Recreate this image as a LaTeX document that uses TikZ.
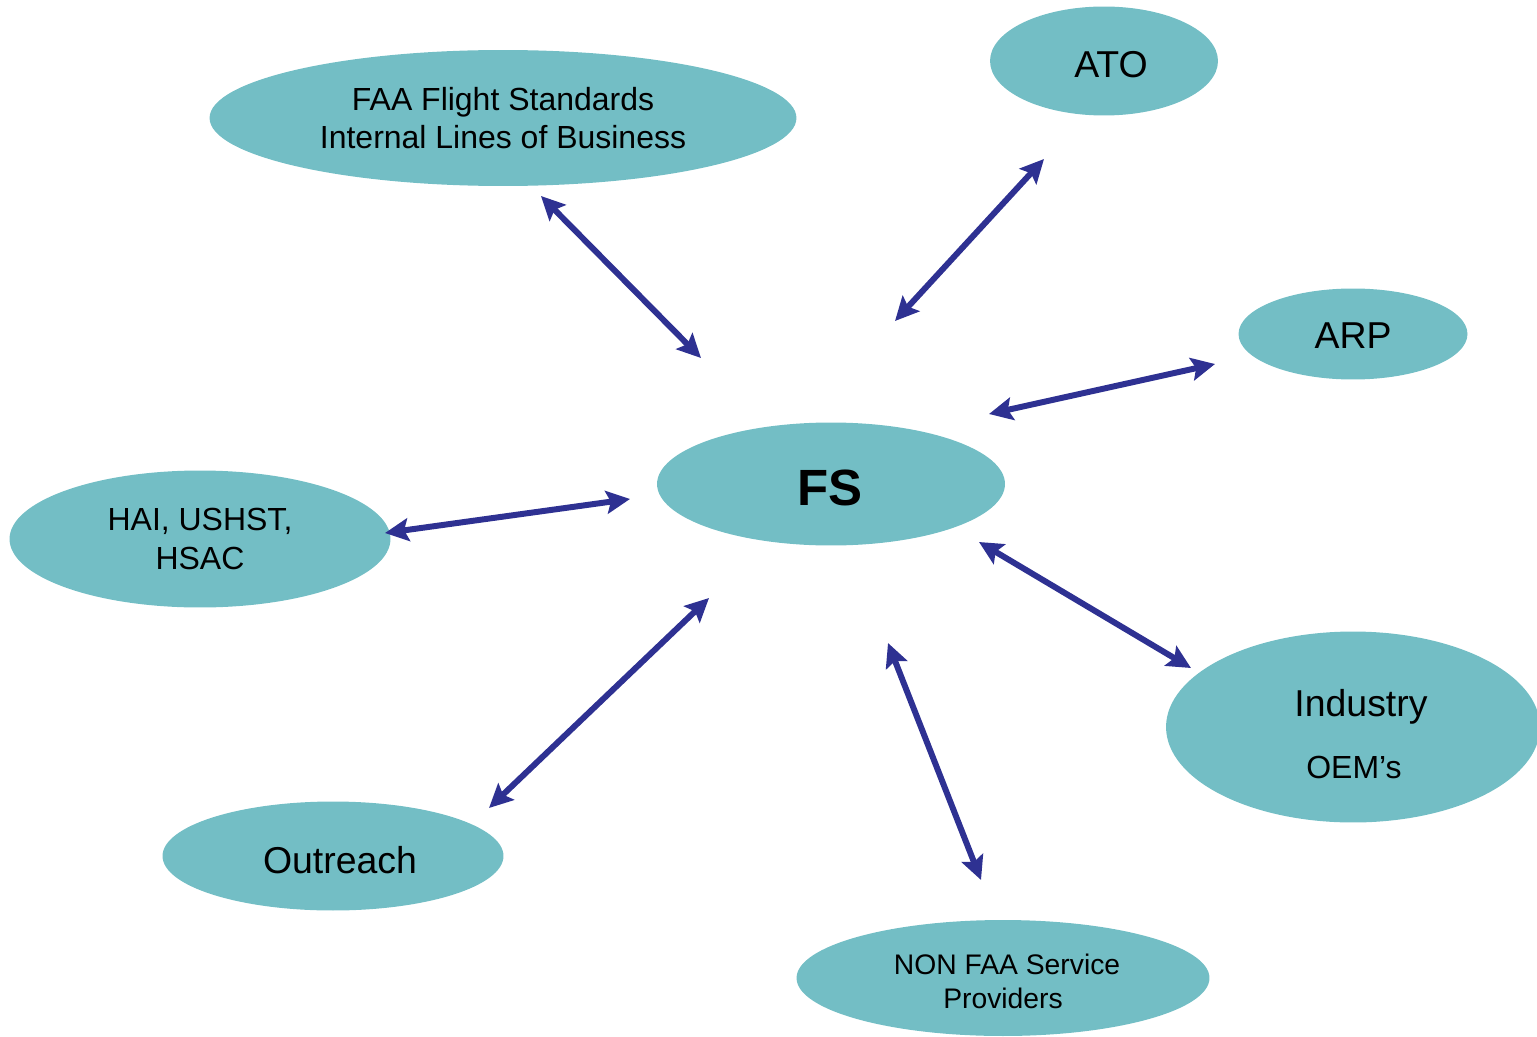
\documentclass[tikz,border=0pt]{standalone}
\usepackage{fontspec}
\setmainfont{Liberation Sans}
\usetikzlibrary{shapes.geometric,arrows.meta}
\definecolor{bubbleC}{HTML}{73BEC5}
\definecolor{linkC}{HTML}{2E3192}
\tikzset{
	bubble/.style={
		ellipse, fill=bubbleC, inner sep=0pt, align=center, text=black,
		%	draw=bubbleC,
	},
	word/.style={anchor=base, inner sep=0pt},
	tipA/.tip={Stealth[length=13.5pt,width=13pt,inset=2.5pt]},
	link/.style={
		draw=linkC, line width=3.4pt, tipA-tipA
	},
}
\def\sizeA{\fontsize{18.2}{22}\selectfont}
\def\sizeB{\fontsize{21.3}{25}\selectfont}
\def\sizeC{\fontsize{16.1}{19.2}\selectfont}

\begin{document}
\begin{tikzpicture}[x=0.02cm, y=-0.02cm]
\useasboundingbox (0,0) rectangle (1537,1037);
\node [bubble, minimum width=11.74cm, minimum height=2.72cm, font=\sizeA] (faa) at (503,118)
	{FAA Flight Standards\\Internal Lines of Business};
\node [bubble, minimum width=4.56cm, minimum height=2.18cm] (ato) at (1104,61) {};
\node [word, font=\sizeB] (ato-1) at (1111,78) {ATO};
\node [bubble, minimum width=4.58cm, minimum height=1.82cm] (arp) at (1353,334) {};
\node [word, font=\sizeB] (arp-1) at (1353,348) {ARP};
\node [bubble, minimum width=6.96cm, minimum height=2.46cm] (fs) at (831,484) {};
\node [word, font=\fontsize{29}{34}\selectfont\bfseries] (fs-1) at (830,505) {FS};
\node [bubble, minimum width=7.62cm, minimum height=2.74cm, font=\sizeA] (hai) at (200,539)
	{HAI, USHST,\\HSAC};
\node [bubble, minimum width=7.48cm, minimum height=3.82cm] (ind) at (1353,727) {};
\node [word, font=\sizeB] (ind-1) at (1361,716) {Industry};
\node [word, font=\sizeA] (ind-2) at (1354,778) {OEM’s};
\node [bubble, minimum width=6.82cm, minimum height=2.18cm] (out) at (333,856) {};
\node [word, font=\sizeB] (out-1) at (340,873) {Outreach};
\node [bubble, minimum width=8.26cm, minimum height=2.32cm] (non) at (1003,978) {};
\node [word, font=\sizeC] (non-1) at (1007,974) {NON FAA Service};
\node [word, font=\sizeC] (non-2) at (1003,1008) {Providers};

\coordinate (faa-fs) at (541,196); \coordinate (fs-faa) at (701,358);
\coordinate (ato-fs) at (1044,159); \coordinate (fs-ato) at (895,321);
\coordinate (arp-fs) at (1215,364); \coordinate (fs-arp) at (989,414);
\coordinate (hai-fs) at (385,533); \coordinate (fs-hai) at (630,499);
\coordinate (ind-fs) at (1191,668); \coordinate (fs-ind) at (979,542);
\coordinate (non-fs) at (981,880); \coordinate (fs-non) at (888,643);
\coordinate (out-fs) at (489,808); \coordinate (fs-out) at (709,598);

\path (faa-fs) edge [link] (fs-faa);
\path (ato-fs) edge [link] (fs-ato);
\path (arp-fs) edge [link] (fs-arp);
\path (hai-fs) edge [link] (fs-hai);
\path (ind-fs) edge [link] (fs-ind);
\path (non-fs) edge [link] (fs-non);
\path (out-fs) edge [link] (fs-out);
\end{tikzpicture}
\end{document}
